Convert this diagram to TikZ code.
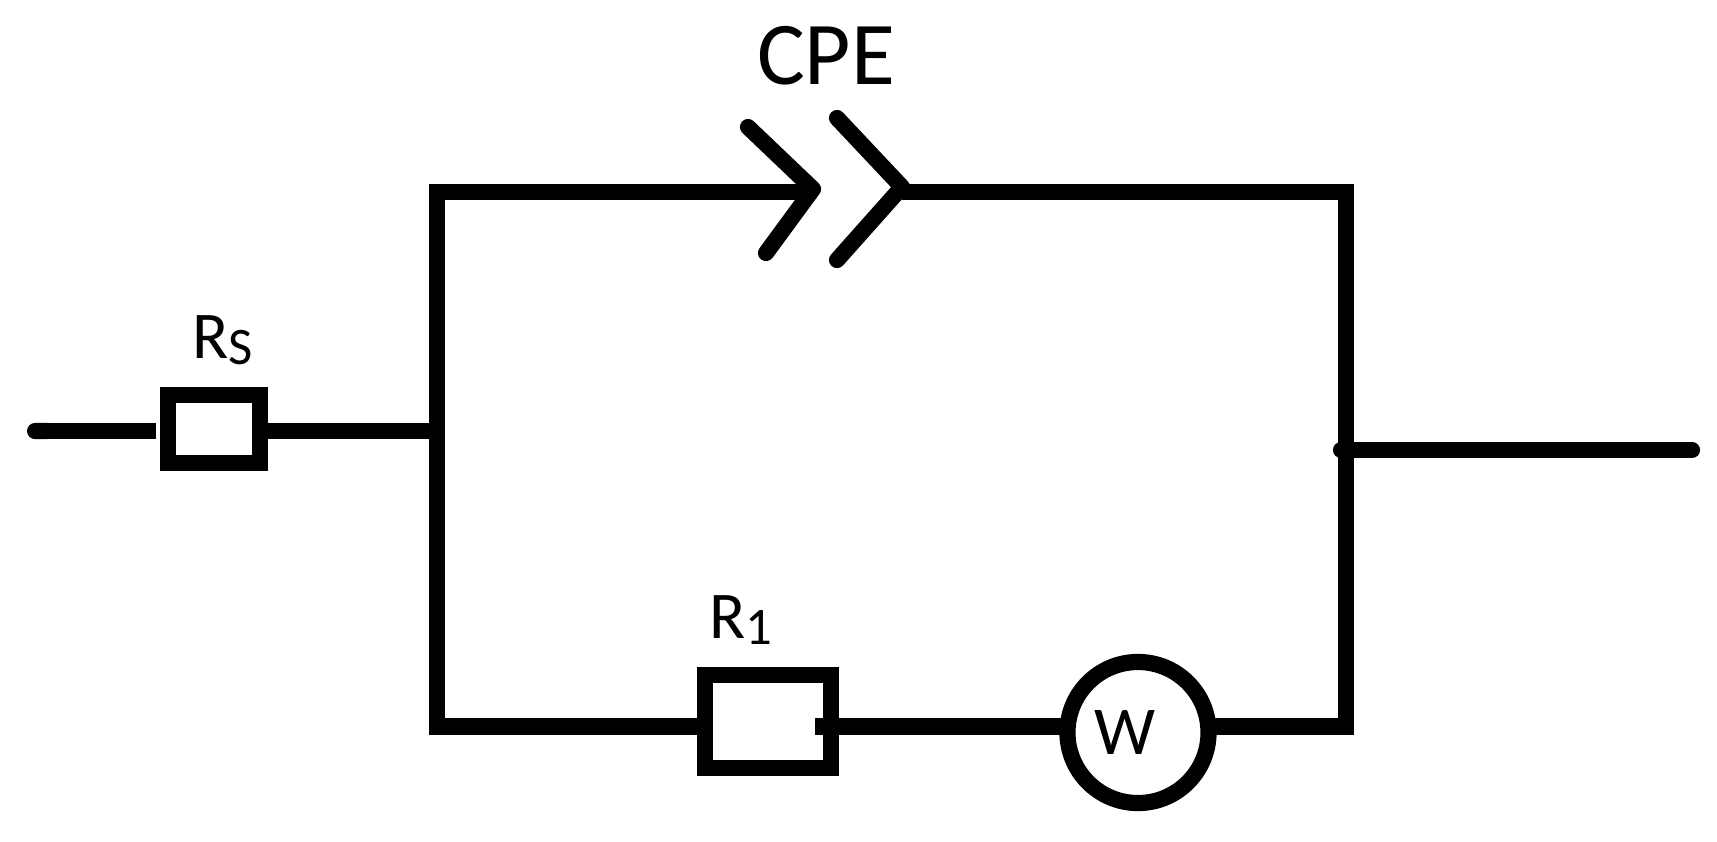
\documentclass[tikz,border=0pt]{standalone}
\usepackage{fontspec}
\setmainfont{Carlito}
\usetikzlibrary{positioning, calc, arrows.meta}

\begin{document}
\begin{tikzpicture}[
    x=0.01cm, y=-0.01cm,
    wire/.style={line width=4.6pt, black},
    plate/.style={line width=4.6pt, black, line cap=round, line join=round},
    resistor/.style={draw=black, line width=4.6pt, fill=white, inner sep=0pt},
    element/.style={draw=black, line width=4.6pt, fill=white, circle, inner sep=0pt, minimum size=1.41cm},
    label/.style={inner sep=0pt, text=black, anchor=base west, font=\fontsize{19}{19}\selectfont}
]
\useasboundingbox (0,0) rectangle (1717,841);

% ===== nodes =====
\node[resistor, minimum width=0.92cm, minimum height=0.68cm] (rs) at (214,429) {};
\node[resistor, minimum width=1.26cm, minimum height=0.93cm] (r1) at (767.7,721.8) {};
\node[element] (w) at (1138,732.5) {};
\node[inner sep=0pt, font=\fontsize{19.5}{19.5}\selectfont] (wlabel) at (1125,732.5) {W};

\coordinate (in) at (27,431);
\coordinate (inend) at (156,431);
\coordinate (left) at (437,431);
\coordinate (lefttop) at (437,192);
\coordinate (leftbot) at (437,726.5);
\coordinate (apexA) at (813,192);
\coordinate (apexB) at (902,192);
\coordinate (righttop) at (1346,192);
\coordinate (rightbot) at (1346,726.5);
\coordinate (right) at (1341,450);
\coordinate (out) at (1692,450);
\coordinate (stub) at (815,726.5);

% ===== labels =====
\node[label] (rslabel) at (192,358) {R\raisebox{-1.8pt}{\fontsize{15}{15}\selectfont S}};
\node[label] (r1label) at (709,638) {R\raisebox{-1.8pt}{\fontsize{15}{15}\selectfont 1}};
\node[inner sep=0pt, font=\fontsize{25.5}{25.5}\selectfont] (cpelabel) at (826,55.5) {CPE};

% ===== wires =====
\draw[wire, {Round Cap[]}-] (in) -- (inend);
\draw[wire] (rs.east |- left) -- (left);
\draw[wire, line join=miter] (apexA) -- (lefttop) -- (leftbot) -- (r1.west |- leftbot);
\draw[wire] (stub) -- ($(stub -| w.west)+(4,0)$);
\draw[wire, line join=miter] ($(w.east |- rightbot)+(-4,0)$) -- (rightbot) -- (righttop) -- (apexB);
\draw[plate] (right) -- (out);

% ===== CPE =====
\draw[plate] (748,127) -- (apexA |- 0,189) -- (766,253);
\draw[plate] (837,118) -- (apexB |- 0,187) -- (837,260);
\end{tikzpicture}
\end{document}
